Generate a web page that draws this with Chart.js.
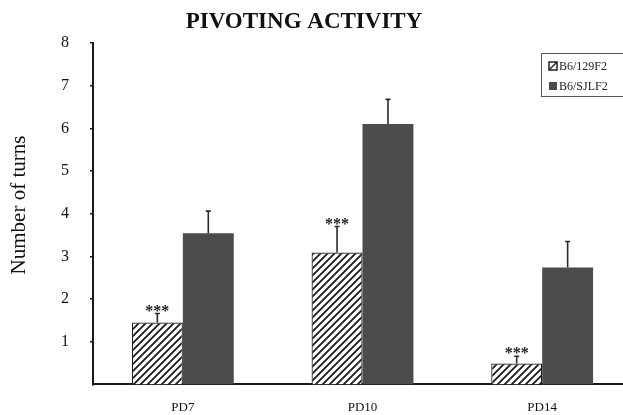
<!DOCTYPE html>
<html>
<head>
<meta charset="utf-8">
<script src="https://cdn.jsdelivr.net/npm/chart.js@4"></script>
<style>
html,body{margin:0;padding:0;background:#fff;overflow:hidden;}
#wrap{width:623px;height:415px;overflow:hidden;position:relative;}
canvas{display:block;}
</style>
</head>
<body>
<div id="wrap"><canvas id="c" width="640" height="415"></canvas></div>
<script>
const chartTitle = "PIVOTING ACTIVITY";
const yAxisTitle = "Number of turns";
const categories = ["PD7", "PD10", "PD14"];
const seriesNames = ["B6/129F2", "B6/SJLF2"];
const b6129Values = [1.45, 3.09, 0.49];
const b6129Errors = [0.21, 0.61, 0.17];
const b6sjlValues = [3.54, 6.10, 2.74];
const b6sjlErrors = [0.52, 0.58, 0.61];
const significance = ["***", "***", "***"];
const yTicks = [1, 2, 3, 4, 5, 6, 7, 8];

const SERIF = "'Liberation Serif', 'Times New Roman', serif";

function makeHatch() {
  const s = 7;
  const c = document.createElement('canvas');
  c.width = s; c.height = s;
  const g = c.getContext('2d');
  g.fillStyle = '#ffffff';
  g.fillRect(0, 0, s, s);
  g.strokeStyle = '#1a1a1a';
  g.lineWidth = 1.8;
  g.beginPath();
  g.moveTo(-1, s + 1); g.lineTo(s + 1, -1);
  g.moveTo(-2, 2); g.lineTo(2, -2);
  g.moveTo(s - 2, s + 2); g.lineTo(s + 2, s - 2);
  g.stroke();
  return document.getElementById('c').getContext('2d').createPattern(c, 'repeat');
}
const hatch = makeHatch();
const DARK = '#4c4c4c';

const errorPlugin = {
  id: 'errs',
  afterDatasetsDraw(chart) {
    const ctx = chart.ctx;
    const y = chart.scales.y;
    chart.data.datasets.forEach((ds, di) => {
      const meta = chart.getDatasetMeta(di);
      meta.data.forEach((bar, i) => {
        const top = y.getPixelForValue(ds.data[i] + ds.errors[i]);
        ctx.save();
        ctx.strokeStyle = '#2a2a2a';
        ctx.lineWidth = 1.6;
        ctx.beginPath();
        ctx.moveTo(bar.x, bar.y);
        ctx.lineTo(bar.x, top);
        ctx.moveTo(bar.x - 2.5, top);
        ctx.lineTo(bar.x + 2.5, top);
        ctx.stroke();
        if (ds.marks) {
          ctx.fillStyle = '#222';
          ctx.font = 'bold 16px ' + SERIF;
          ctx.textAlign = 'center';
          ctx.textBaseline = 'alphabetic';
          ctx.fillText(ds.marks[i], bar.x, top + 2);
        }
        ctx.restore();
      });
    });
  }
};

const textPlugin = {
  id: 'texts',
  afterDraw(chart) {
    const ctx = chart.ctx;
    ctx.save();
    ctx.fillStyle = '#111';
    ctx.font = 'bold 23px ' + SERIF;
    ctx.textAlign = 'center';
    ctx.textBaseline = 'middle';
    ctx.fillText(chartTitle, 304, 22);
    ctx.font = '21px ' + SERIF;
    ctx.translate(19, 205);
    ctx.rotate(-Math.PI / 2);
    ctx.fillText(yAxisTitle, 0, 0);
    ctx.restore();

    // legend
    ctx.save();
    const lx = 541, ly = 53, lw = 100, lh = 43;
    ctx.strokeStyle = '#555';
    ctx.lineWidth = 1;
    ctx.strokeRect(lx + 0.5, ly + 0.5, lw, lh);
    ctx.font = '12px ' + SERIF;
    ctx.textAlign = 'left';
    ctx.textBaseline = 'middle';
    const rows = [66, 86];
    chart.data.datasets.forEach((ds, di) => {
      const ry = rows[di];
      const sx = 549, sy = ry - 4, ss = 8;
      if (di === 0) {
        ctx.fillStyle = '#fff';
        ctx.fillRect(sx, sy, ss, ss);
        ctx.strokeStyle = '#222';
        ctx.lineWidth = 1.5;
        ctx.strokeRect(sx, sy, ss, ss);
        ctx.beginPath();
        ctx.moveTo(sx, sy + ss); ctx.lineTo(sx + ss, sy);
        ctx.stroke();
      } else {
        ctx.fillStyle = DARK;
        ctx.fillRect(sx, sy, ss, ss);
      }
      ctx.fillStyle = '#222';
      ctx.fillText(ds.label, 559, ry + 1);
    });
    ctx.restore();
  }
};

new Chart(document.getElementById('c'), {
  type: 'bar',
  data: {
    labels: categories,
    datasets: [
      { label: seriesNames[0], data: b6129Values, errors: b6129Errors, marks: significance,
        backgroundColor: hatch, borderColor: '#1a1a1a', borderWidth: 1.2, borderSkipped: 'bottom' },
      { label: seriesNames[1], data: b6sjlValues, errors: b6sjlErrors,
        backgroundColor: DARK, borderColor: '#444', borderWidth: 0 }
    ]
  },
  options: {
    responsive: false,
    animation: false,
    devicePixelRatio: 1,
    categoryPercentage: 0.567,
    barPercentage: 1.0,
    layout: { padding: { top: 43, right: 8, left: 0, bottom: 0 } },
    plugins: { legend: { display: false }, title: { display: false }, tooltip: { enabled: false } },
    scales: {
      x: {
        type: 'category',
        grid: { display: true, drawOnChartArea: false, drawTicks: false },
        border: { display: true, color: '#1a1a1a', width: 2 },
        ticks: { color: '#111', font: { family: SERIF, size: 13 }, padding: 15 },
        afterFit(s) { s.height = 30; }
      },
      y: {
        min: 0, max: 8,
        afterBuildTicks(s) { s.ticks = yTicks.map(v => ({ value: v })); },
        grid: { display: true, drawOnChartArea: false, drawTicks: true, tickLength: 3, color: '#1a1a1a', lineWidth: 1.5 },
        border: { display: true, color: '#1a1a1a', width: 2 },
        ticks: { color: '#111', font: { family: SERIF, size: 16 }, padding: 21 },
        afterFit(s) { s.width = 93; }
      }
    }
  },
  plugins: [errorPlugin, textPlugin]
});
</script>
</body>
</html>
